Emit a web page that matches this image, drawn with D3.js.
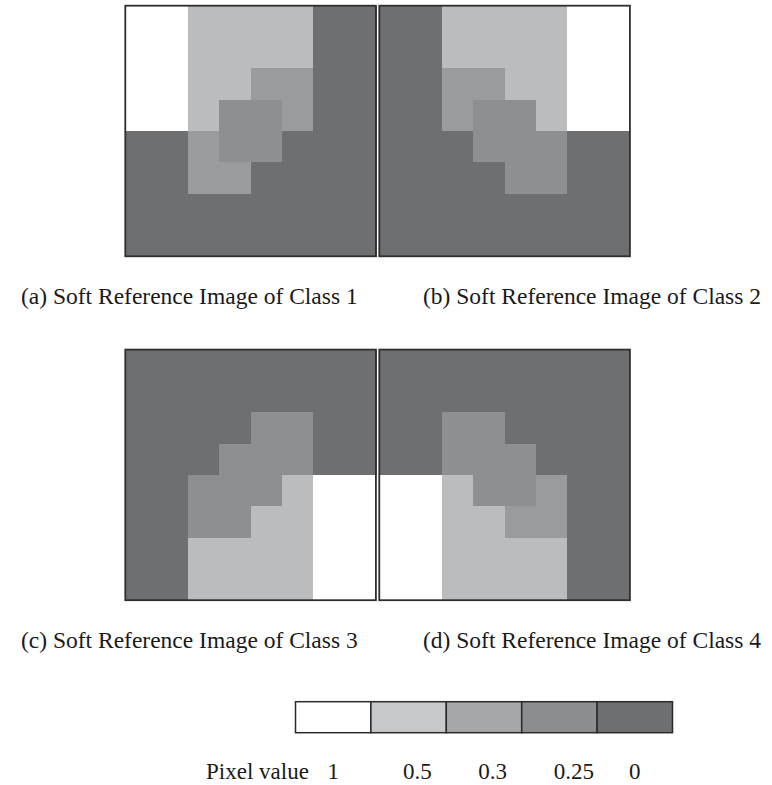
<!DOCTYPE html>
<html>
<head>
<meta charset="utf-8">
<script src="https://cdn.jsdelivr.net/npm/d3@7"></script>
<style>
  html, body { margin: 0; padding: 0; background: #fff; }
  svg { display: block; }
  text { font-family: "Liberation Serif", "Times New Roman", serif; fill: #1a1a1a; }
</style>
</head>
<body>
<svg id="chart" width="772" height="785"></svg>
<script>
// Soft reference images: 8x8 pixel grids, one per class (rows top to bottom)
const class1 = [
  [1, 1, 0.5, 0.5, 0.5, 0.5, 0, 0],
  [1, 1, 0.5, 0.5, 0.5, 0.5, 0, 0],
  [1, 1, 0.5, 0.5, 0.3, 0.3, 0, 0],
  [1, 1, 0.5, 0.25, 0.25, 0.3, 0, 0],
  [0, 0, 0.3, 0.25, 0.25, 0, 0, 0],
  [0, 0, 0.3, 0.3, 0, 0, 0, 0],
  [0, 0, 0, 0, 0, 0, 0, 0],
  [0, 0, 0, 0, 0, 0, 0, 0]
];
const class2 = [
  [0, 0, 0.5, 0.5, 0.5, 0.5, 1, 1],
  [0, 0, 0.5, 0.5, 0.5, 0.5, 1, 1],
  [0, 0, 0.3, 0.3, 0.5, 0.5, 1, 1],
  [0, 0, 0.3, 0.25, 0.25, 0.5, 1, 1],
  [0, 0, 0, 0.25, 0.25, 0.25, 0, 0],
  [0, 0, 0, 0, 0.25, 0.25, 0, 0],
  [0, 0, 0, 0, 0, 0, 0, 0],
  [0, 0, 0, 0, 0, 0, 0, 0]
];
const class3 = [
  [0, 0, 0, 0, 0, 0, 0, 0],
  [0, 0, 0, 0, 0, 0, 0, 0],
  [0, 0, 0, 0, 0.25, 0.25, 0, 0],
  [0, 0, 0, 0.25, 0.25, 0.25, 0, 0],
  [0, 0, 0.25, 0.25, 0.25, 0.5, 1, 1],
  [0, 0, 0.25, 0.25, 0.5, 0.5, 1, 1],
  [0, 0, 0.5, 0.5, 0.5, 0.5, 1, 1],
  [0, 0, 0.5, 0.5, 0.5, 0.5, 1, 1]
];
const class4 = [
  [0, 0, 0, 0, 0, 0, 0, 0],
  [0, 0, 0, 0, 0, 0, 0, 0],
  [0, 0, 0.25, 0.25, 0, 0, 0, 0],
  [0, 0, 0.25, 0.25, 0.25, 0, 0, 0],
  [1, 1, 0.5, 0.25, 0.25, 0.3, 0, 0],
  [1, 1, 0.5, 0.5, 0.3, 0.3, 0, 0],
  [1, 1, 0.5, 0.5, 0.5, 0.5, 0, 0],
  [1, 1, 0.5, 0.5, 0.5, 0.5, 0, 0]
];

const panelTags = ["(a)", "(b)", "(c)", "(d)"];
const classNames = ["Class 1", "Class 2", "Class 3", "Class 4"];
const legendValues = [1, 0.5, 0.3, 0.25, 0];
const legendLabels = ["1", "0.5", "0.3", "0.25", "0"];
const legendTitle = "Pixel value";

// ---- layout ----
const svg = d3.select("#chart");
const gridSize = 250.6;
const panelX = [125.3, 379.3];
const panelY = [5.7, 349.6];
const captionX = [21, 423];
const fontSize = 23.5;

const cellColor = d3.scaleOrdinal()
  .domain(legendValues)
  .range(["#ffffff", "#bbbcbe", "#9a9b9d", "#8e8f92", "#6e6f71"]);
const legendColor = d3.scaleOrdinal()
  .domain(legendValues)
  .range(["#ffffff", "#c7c8ca", "#a6a7a9", "#8c8d8f", "#6e6f71"]);

const col = d3.scaleBand().domain(d3.range(8)).range([0, gridSize]);
const row = d3.scaleBand().domain(d3.range(8)).range([0, gridSize]);

const grids = [class1, class2, class3, class4];

grids.forEach((grid, k) => {
  const px = panelX[k % 2], py = panelY[Math.floor(k / 2)];
  const g = svg.append("g").attr("transform", `translate(${px},${py})`);

  const cells = grid.flatMap((r, i) => r.map((v, j) => ({ i, j, v })));
  g.selectAll("rect.cell")
    .data(cells)
    .join("rect")
    .attr("class", "cell")
    .attr("x", d => col(d.j))
    .attr("y", d => row(d.i))
    .attr("width", col.bandwidth() + 0.6)
    .attr("height", row.bandwidth() + 0.6)
    .attr("shape-rendering", "crispEdges")
    .attr("fill", d => cellColor(d.v));

  g.append("rect")
    .attr("x", 0).attr("y", 0)
    .attr("width", gridSize).attr("height", gridSize)
    .attr("fill", "none")
    .attr("stroke", "#2e2e2e")
    .attr("stroke-width", 1.8);

  svg.append("text")
    .attr("x", captionX[k % 2])
    .attr("y", py + gridSize + 48)
    .attr("font-size", fontSize)
    .text(`${panelTags[k]} Soft Reference Image of ${classNames[k]}`);
});

// ---- legend ----
const lx = d3.scaleBand().domain(legendValues).range([295.5, 672.5]);
const legend = svg.append("g");
legend.selectAll("rect")
  .data(legendValues)
  .join("rect")
  .attr("x", d => lx(d))
  .attr("y", 701.7)
  .attr("width", lx.bandwidth())
  .attr("height", 31)
  .attr("fill", d => legendColor(d))
  .attr("stroke", "#2a2a2a")
  .attr("stroke-width", 1.5);

legend.selectAll("text.val")
  .data(legendValues)
  .join("text")
  .attr("class", "val")
  .attr("x", d => lx(d) + 32)
  .attr("y", 779)
  .attr("font-size", 23)
  .text((d, i) => legendLabels[i]);

legend.append("text")
  .attr("x", 206)
  .attr("y", 779)
  .attr("font-size", 23)
  .text(legendTitle);
</script>
</body>
</html>
